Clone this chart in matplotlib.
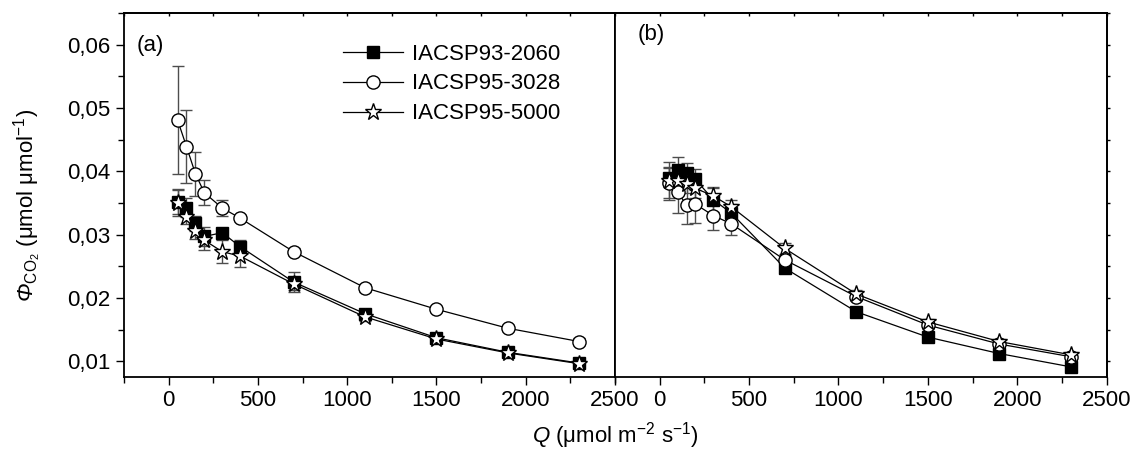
import matplotlib
matplotlib.use("Agg")
import matplotlib.pyplot as plt
from matplotlib.lines import Line2D
from matplotlib.ticker import MultipleLocator, FuncFormatter

plt.rcParams['font.family'] = ['Liberation Sans', 'DejaVu Sans']
plt.rcParams['mathtext.fontset'] = 'custom'
plt.rcParams['mathtext.rm'] = 'Liberation Sans'
plt.rcParams['mathtext.it'] = 'Liberation Sans:italic'
plt.rcParams['mathtext.cal'] = 'Liberation Sans:italic'  # para o Phi italico
plt.rcParams['font.size'] = 16

# --- dados ---
q = [50, 100, 150, 200, 300, 400, 700, 1100, 1500, 1900, 2300]
labels = ["IACSP93-2060", "IACSP95-3028", "IACSP95-5000"]

# painel (a)
a_2060 = [0.0352, 0.0342, 0.0318, 0.0297, 0.0303, 0.0281, 0.0225, 0.0175, 0.0137, 0.0114, 0.0097]
a_2060_err = [0.0020, 0.0015, 0.0012, 0.0015, 0.0008, 0.0010, 0.0016, 0.0005, 0.0003, 0.0003, 0.0003]
a_3028 = [0.0481, 0.0439, 0.0396, 0.0366, 0.0342, 0.0326, 0.0273, 0.0216, 0.0182, 0.0152, 0.0131]
a_3028_err = [0.0086, 0.0057, 0.0035, 0.0020, 0.0013, 0.0005, 0.0006, 0.0006, 0.0004, 0.0005, 0.0005]
a_5000 = [0.0350, 0.0328, 0.0305, 0.0291, 0.0273, 0.0266, 0.0222, 0.0170, 0.0135, 0.0113, 0.0096]
a_5000_err = [0.0020, 0.0012, 0.0012, 0.0015, 0.0018, 0.0017, 0.0010, 0.0007, 0.0003, 0.0003, 0.0003]

# painel (b)
b_2060 = [0.0390, 0.0402, 0.0397, 0.0387, 0.0355, 0.0334, 0.0247, 0.0178, 0.0138, 0.0112, 0.0091]
b_2060_err = [0.0015, 0.0020, 0.0016, 0.0017, 0.0020, 0.0015, 0.0008, 0.0005, 0.0004, 0.0003, 0.0003]
b_3028 = [0.0382, 0.0368, 0.0346, 0.0348, 0.0330, 0.0317, 0.0260, 0.0202, 0.0157, 0.0127, 0.0107]
b_3028_err = [0.0025, 0.0034, 0.0030, 0.0030, 0.0023, 0.0017, 0.0008, 0.0006, 0.0005, 0.0004, 0.0004]
b_5000 = [0.0385, 0.0384, 0.0380, 0.0373, 0.0361, 0.0344, 0.0278, 0.0206, 0.0162, 0.0131, 0.0110]
b_5000_err = [0.0030, 0.0020, 0.0015, 0.0015, 0.0012, 0.0010, 0.0008, 0.0006, 0.0005, 0.0004, 0.0004]

estilos = [
    dict(marker='s', mfc='black', mec='black', ms=9),
    dict(marker='o', mfc='white', mec='black', ms=9.5),
    dict(marker='*', mfc='white', mec='black', ms=12.5, mew=1.0),
]

fig = plt.figure(figsize=(11.34, 4.55), dpi=100)
ax_a = fig.add_axes([124/1134, 1-377/455, 491/1134, 364/455])
ax_b = fig.add_axes([615/1134, 1-377/455, 491.7/1134, 364/455])

virgula = FuncFormatter(lambda v, p: f"{v:.2f}".replace('.', ','))


def desenhar(ax, series, erros, tick_dir):
    for s, e, lab, st in zip(series, erros, labels, estilos):
        ax.errorbar(q, s, yerr=e, color='black', lw=0.9, ecolor='0.3', elinewidth=1.0,
                    capsize=4, capthick=1.0, label=lab, **st)
    ax.set_xlim(-250, 2500)
    ax.set_ylim(0.0075, 0.065)
    ax.set_xticks([0, 500, 1000, 1500, 2000, 2500])
    ax.xaxis.set_minor_locator(MultipleLocator(250))
    ax.yaxis.set_major_locator(MultipleLocator(0.01))
    ax.yaxis.set_minor_locator(MultipleLocator(0.005))
    for sp in ax.spines.values():
        sp.set_linewidth(1.3)
    ax.tick_params(axis='x', which='major', length=6, width=1.0, direction='out', top=False)
    ax.tick_params(axis='x', which='minor', length=4, width=1.0, direction='out', top=False)
    ax.tick_params(axis='y', which='major', length=6, width=1.0, direction='out')
    ax.tick_params(axis='y', which='minor', length=4, width=1.0, direction='out')
    ax.tick_params(labelsize=16)
    # eixo da direita
    dir_ax = ax.secondary_yaxis('right')
    dir_ax.yaxis.set_major_locator(MultipleLocator(0.005))
    dir_ax.tick_params(axis='y', which='both', direction='out', length=tick_dir, width=1.0,
                       labelright=False)
    dir_ax.spines['right'].set_linewidth(1.3)
    # eixo de cima com ticks pequenos para dentro
    topo = ax.secondary_xaxis('top')
    topo.set_xticks([0, 500, 1000, 1500, 2000, 2500])
    topo.xaxis.set_minor_locator(MultipleLocator(250))
    topo.tick_params(axis='x', which='both', direction='in', length=2, width=1.0, labeltop=False)
    topo.spines['top'].set_linewidth(1.3)


desenhar(ax_a, [a_2060, a_3028, a_5000], [a_2060_err, a_3028_err, a_5000_err], 6.5)
desenhar(ax_b, [b_2060, b_3028, b_5000], [b_2060_err, b_3028_err, b_5000_err], 2)

ax_a.yaxis.set_major_formatter(virgula)
ax_b.tick_params(axis='y', which='both', left=False, labelleft=False)

ax_a.text(0.026, 0.912, "(a)", transform=ax_a.transAxes, fontsize=16, va='center')
ax_b.text(0.045, 0.94, "(b)", transform=ax_b.transAxes, fontsize=16, va='center')

handles = [Line2D([], [], color='black', lw=0.9, **st) for st in estilos]
ax_a.legend(handles, labels, loc='upper left', bbox_to_anchor=(0.41, 0.965), frameon=False,
            handlelength=2.7, handletextpad=0.4, labelspacing=0.4, fontsize=16,
            borderpad=0.3)

fig.text(28/1134, 1-205/455, r'$\mathcal{Φ}_{\mathrm{CO_2}}$ (μmol μmol$^{-1}$)',
         rotation=90, ha='center', va='center', fontsize=16)
fig.text(615/1134, 1-436/455, r'$\mathit{Q}$ (μmol m$^{-2}$ s$^{-1}$)',
         ha='center', va='center', fontsize=16)

fig.savefig("out.png", dpi=100)
